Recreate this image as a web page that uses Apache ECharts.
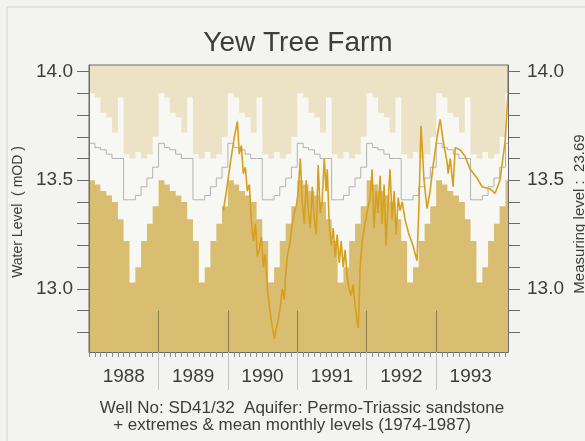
<!DOCTYPE html>
<html>
<head>
<meta charset="utf-8">
<script src="https://cdn.jsdelivr.net/npm/echarts@6/dist/echarts.min.js"></script>
<style>
  html, body { margin: 0; padding: 0; background: #f3f3f1; }
  #chart { width: 585px; height: 441px; }
</style>
</head>
<body>
<div id="chart"></div>
<script>
// Yew Tree Farm well hydrograph, 1988-1993, over the 1974-1987 monthly statistics.

// Axis extent (dates) and level range (m OD)
const axisStart = '1988-01-01';
const axisEnd = '1994-01-14';
const levelMin = 12.71;
const levelMax = 14.03;

const years = [1988, 1989, 1990, 1991, 1992, 1993];
const yearTickLabels = ['1988', '1989', '1990', '1991', '1992', '1993'];
const levelTicks = [12.8, 12.9, 13.0, 13.1, 13.2, 13.3, 13.4, 13.5, 13.6, 13.7, 13.8, 13.9, 14.0];
const levelLabels = [13.0, 13.5, 14.0];

// Monthly statistics 1974-1987 (Jan..Dec)
const monthlyMax  = [13.90, 13.88, 13.81, 13.79, 13.72, 13.88, 13.62, 13.60, 13.63, 13.60, 13.62, 13.70];
const monthlyMean = [13.67, 13.65, 13.64, 13.62, 13.60, 13.60, 13.41, 13.41, 13.43, 13.47, 13.51, 13.56];
const monthlyMin  = [13.50, 13.48, 13.45, 13.43, 13.40, 13.32, 13.22, 13.03, 13.10, 13.22, 13.30, 13.38];

// Year boundary marks drawn up from the bottom of the plot
const yearMarkTop = 12.9;

// Observed water levels
const obsDates = [
  '1989-12-08','1989-12-24','1990-01-14','1990-02-04','1990-02-20','1990-03-02','1990-03-13','1990-03-23',
  '1990-04-03','1990-04-13','1990-04-24','1990-05-04','1990-05-15','1990-05-26','1990-06-05','1990-06-16',
  '1990-06-26','1990-07-07','1990-07-17','1990-07-28','1990-08-07','1990-08-18','1990-08-28','1990-09-02',
  '1990-09-13','1990-09-23','1990-10-04','1990-10-14','1990-10-25','1990-10-30','1990-11-10','1990-11-25',
  '1990-12-06','1990-12-16','1990-12-27',
  '1991-01-06','1991-01-17','1991-01-27','1991-02-07','1991-02-17','1991-02-28','1991-03-10','1991-03-21',
  '1991-03-31','1991-04-11','1991-04-21','1991-05-02','1991-05-12','1991-05-23','1991-06-02','1991-06-08',
  '1991-06-18','1991-06-29','1991-07-09','1991-07-20','1991-07-30','1991-08-10','1991-08-20','1991-08-31',
  '1991-09-10','1991-09-21','1991-10-01','1991-10-12','1991-10-22','1991-11-02','1991-11-12','1991-11-18',
  '1991-11-23','1991-11-28','1991-12-09','1991-12-19','1991-12-30',
  '1992-01-09','1992-01-19','1992-01-30','1992-02-09','1992-02-20','1992-03-01','1992-03-12','1992-03-22',
  '1992-04-02','1992-04-12','1992-04-23','1992-05-03','1992-05-14','1992-05-25','1992-06-04','1992-06-15',
  '1992-06-25','1992-07-06','1992-07-21','1992-08-11','1992-09-01','1992-09-22','1992-10-03','1992-10-13',
  '1992-10-29','1992-11-14','1992-11-30','1992-12-15',
  '1993-01-06','1993-01-22','1993-02-07','1993-02-28','1993-03-05','1993-03-16','1993-03-31','1993-04-11',
  '1993-05-07','1993-06-02','1993-06-29','1993-08-04','1993-08-31','1993-10-12','1993-11-07','1993-12-03',
  '1993-12-30','1994-01-14'
];
const obsLevels = [
  13.36, 13.45, 13.58, 13.70, 13.77, 13.62, 13.66, 13.53,
  13.56, 13.45, 13.48, 13.32, 13.22, 13.30, 13.15, 13.18,
  13.24, 13.10, 13.16, 13.00, 12.92, 12.85, 12.80, 12.77,
  12.82, 12.86, 12.92, 13.00, 12.95, 13.05, 13.15, 13.22,
  13.30, 13.35, 13.38,
  13.45, 13.60, 13.40, 13.30, 13.50, 13.36, 13.28, 13.47,
  13.33, 13.25, 13.57, 13.35, 13.40, 13.60, 13.45, 13.55,
  13.30, 13.20, 13.28, 13.15, 13.25, 13.12, 13.22, 13.10,
  13.18, 13.05, 13.00, 12.97, 13.02, 12.92, 12.85, 12.82,
  12.95, 13.10, 13.22, 13.28, 13.33,
  13.38, 13.42, 13.55, 13.28, 13.45, 13.35, 13.52, 13.30,
  13.48, 13.20, 13.40, 13.55, 13.32, 13.45, 13.25, 13.42,
  13.36, 13.40, 13.32, 13.25, 13.20, 13.13, 13.40, 13.75,
  13.50, 13.37, 13.45, 13.56,
  13.70, 13.78, 13.68, 13.58, 13.53, 13.60, 13.47, 13.65,
  13.64, 13.61, 13.55, 13.51, 13.47, 13.46, 13.44, 13.50,
  13.68, 13.90
];

// Dates are placed on a numeric (millisecond) axis
const toTime = s => { const p = s.split('-').map(Number); return new Date(p[0], p[1] - 1, p[2]).getTime(); };
const ts = (y, m, d) => new Date(y, m, d).getTime();

// Repeat a monthly statistic through every year on the axis
function monthlySteps(values) {
  const pts = [];
  years.forEach(y => {
    for (let m = 0; m < 12; m++) pts.push([ts(y, m, 1), values[m]]);
  });
  pts.push([ts(years[years.length - 1] + 1, 0, 1), values[0]]);
  pts.push([toTime(axisEnd), values[0]]);
  return pts;
}

const monthTicks = [];
years.forEach(y => { for (let m = 0; m < 12; m++) monthTicks.push(ts(y, m, 1)); });
monthTicks.push(ts(years[years.length - 1] + 1, 0, 1));
const yearBounds = years.slice(1).map(y => ts(y, 0, 1));
const yearMids = years.map(y => ts(y, 6, 2));

const obsData = obsDates.map((d, i) => [toTime(d), obsLevels[i]]);

const font = 'Liberation Sans, Arial, Helvetica, sans-serif';
const textCol = '#3d3d3d';
const frameCol = '#6a6a6a';

const chart = echarts.init(document.getElementById('chart'), null, { renderer: 'canvas' });

chart.setOption({
  backgroundColor: '#f3f3f1',
  animation: false,
  grid: {
    left: 89, right: 77, top: 65, bottom: 89,
    show: true, backgroundColor: '#ece2c5', borderColor: frameCol, borderWidth: 1
  },
  xAxis: [
    {
      type: 'value', min: toTime(axisStart), max: toTime(axisEnd), position: 'bottom', z: 10,
      axisLine: { show: true, lineStyle: { color: frameCol, width: 1 } },
      axisTick: { show: true, customValues: monthTicks, length: 5, lineStyle: { color: '#8a8a8a', width: 1 } },
      axisLabel: { show: false },
      splitLine: { show: false }
    },
    {
      type: 'value', min: toTime(axisStart), max: toTime(axisEnd), position: 'bottom', z: 10,
      axisLine: { show: false },
      axisTick: { show: true, customValues: yearBounds, length: 38, lineStyle: { color: '#c4c4c4', width: 1 } },
      axisLabel: {
        show: true, customValues: yearMids, margin: 15,
        formatter: v => yearTickLabels[years.indexOf(new Date(v).getFullYear())],
        fontFamily: font, fontSize: 19, color: textCol
      },
      splitLine: { show: false }
    }
  ],
  yAxis: [
    {
      type: 'value', min: levelMin, max: levelMax, position: 'left', z: 10,
      axisLine: { show: true, lineStyle: { color: frameCol, width: 1 } },
      axisTick: { show: true, customValues: levelTicks, length: 12, lineStyle: { color: frameCol, width: 1 } },
      axisLabel: {
        show: true, customValues: levelLabels, margin: 16,
        formatter: v => v.toFixed(1), fontFamily: font, fontSize: 19, color: textCol
      },
      splitLine: { show: false }
    },
    {
      type: 'value', min: levelMin, max: levelMax, position: 'right', z: 10,
      axisLine: { show: true, lineStyle: { color: frameCol, width: 1 } },
      axisTick: { show: true, customValues: levelTicks, length: 12, lineStyle: { color: frameCol, width: 1 } },
      axisLabel: {
        show: true, customValues: levelLabels, margin: 19,
        formatter: v => v.toFixed(1), fontFamily: font, fontSize: 19, color: textCol
      },
      splitLine: { show: false }
    }
  ],
  series: [
    {
      name: 'Monthly maximum', type: 'line', step: 'end', symbol: 'none',
      data: monthlySteps(monthlyMax),
      lineStyle: { width: 0 },
      areaStyle: { color: '#f7f7f4', opacity: 1, origin: 'start' },
      silent: true, z: 2
    },
    {
      name: 'Monthly minimum', type: 'line', step: 'end', symbol: 'none',
      data: monthlySteps(monthlyMin),
      lineStyle: { width: 0 },
      areaStyle: { color: '#d9bd70', opacity: 1, origin: 'start' },
      silent: true, z: 3,
      markLine: {
        silent: true, symbol: 'none', animation: false,
        label: { show: false },
        lineStyle: { color: '#8c7c52', width: 1, type: 'solid' },
        data: yearBounds.map(t => [
          { coord: [t, levelMin] },
          { coord: [t, yearMarkTop] }
        ])
      }
    },
    {
      name: 'Monthly mean', type: 'line', step: 'end', symbol: 'none',
      data: monthlySteps(monthlyMean),
      lineStyle: { color: '#b2b2b2', width: 1 },
      silent: true, z: 4
    },
    {
      name: 'Water level', type: 'line', symbol: 'none',
      data: obsData,
      lineStyle: { color: '#d6a01e', width: 1.6 },
      silent: true, z: 5
    }
  ],
  graphic: [
    {
      type: 'rect', shape: { x: 7, y: 7, width: 600, height: 440 },
      style: { fill: null, stroke: '#d4d4d2', lineWidth: 1 }, silent: true, z: -1
    },
    {
      type: 'text', x: 298, y: 43,
      style: { text: 'Yew Tree Farm', fontFamily: font, fontSize: 28, fill: textCol, textAlign: 'center', textVerticalAlign: 'middle' }
    },
    {
      type: 'text', x: 18, y: 212, rotation: Math.PI / 2,
      style: { text: 'Water Level  ( mOD )', fontFamily: font, fontSize: 14, fill: textCol, textAlign: 'center', textVerticalAlign: 'middle' }
    },
    {
      type: 'text', x: 580, y: 214, rotation: Math.PI / 2,
      style: { text: 'Measuring level :  23.69', fontFamily: font, fontSize: 15, fill: textCol, textAlign: 'center', textVerticalAlign: 'middle' }
    },
    {
      type: 'text', x: 302, y: 408,
      style: { text: 'Well No: SD41/32  Aquifer: Permo-Triassic sandstone', fontFamily: font, fontSize: 17, fill: textCol, textAlign: 'center', textVerticalAlign: 'middle' }
    },
    {
      type: 'text', x: 292, y: 425,
      style: { text: '+ extremes & mean monthly levels (1974-1987)', fontFamily: font, fontSize: 17, fill: textCol, textAlign: 'center', textVerticalAlign: 'middle' }
    }
  ]
});
</script>
</body>
</html>
